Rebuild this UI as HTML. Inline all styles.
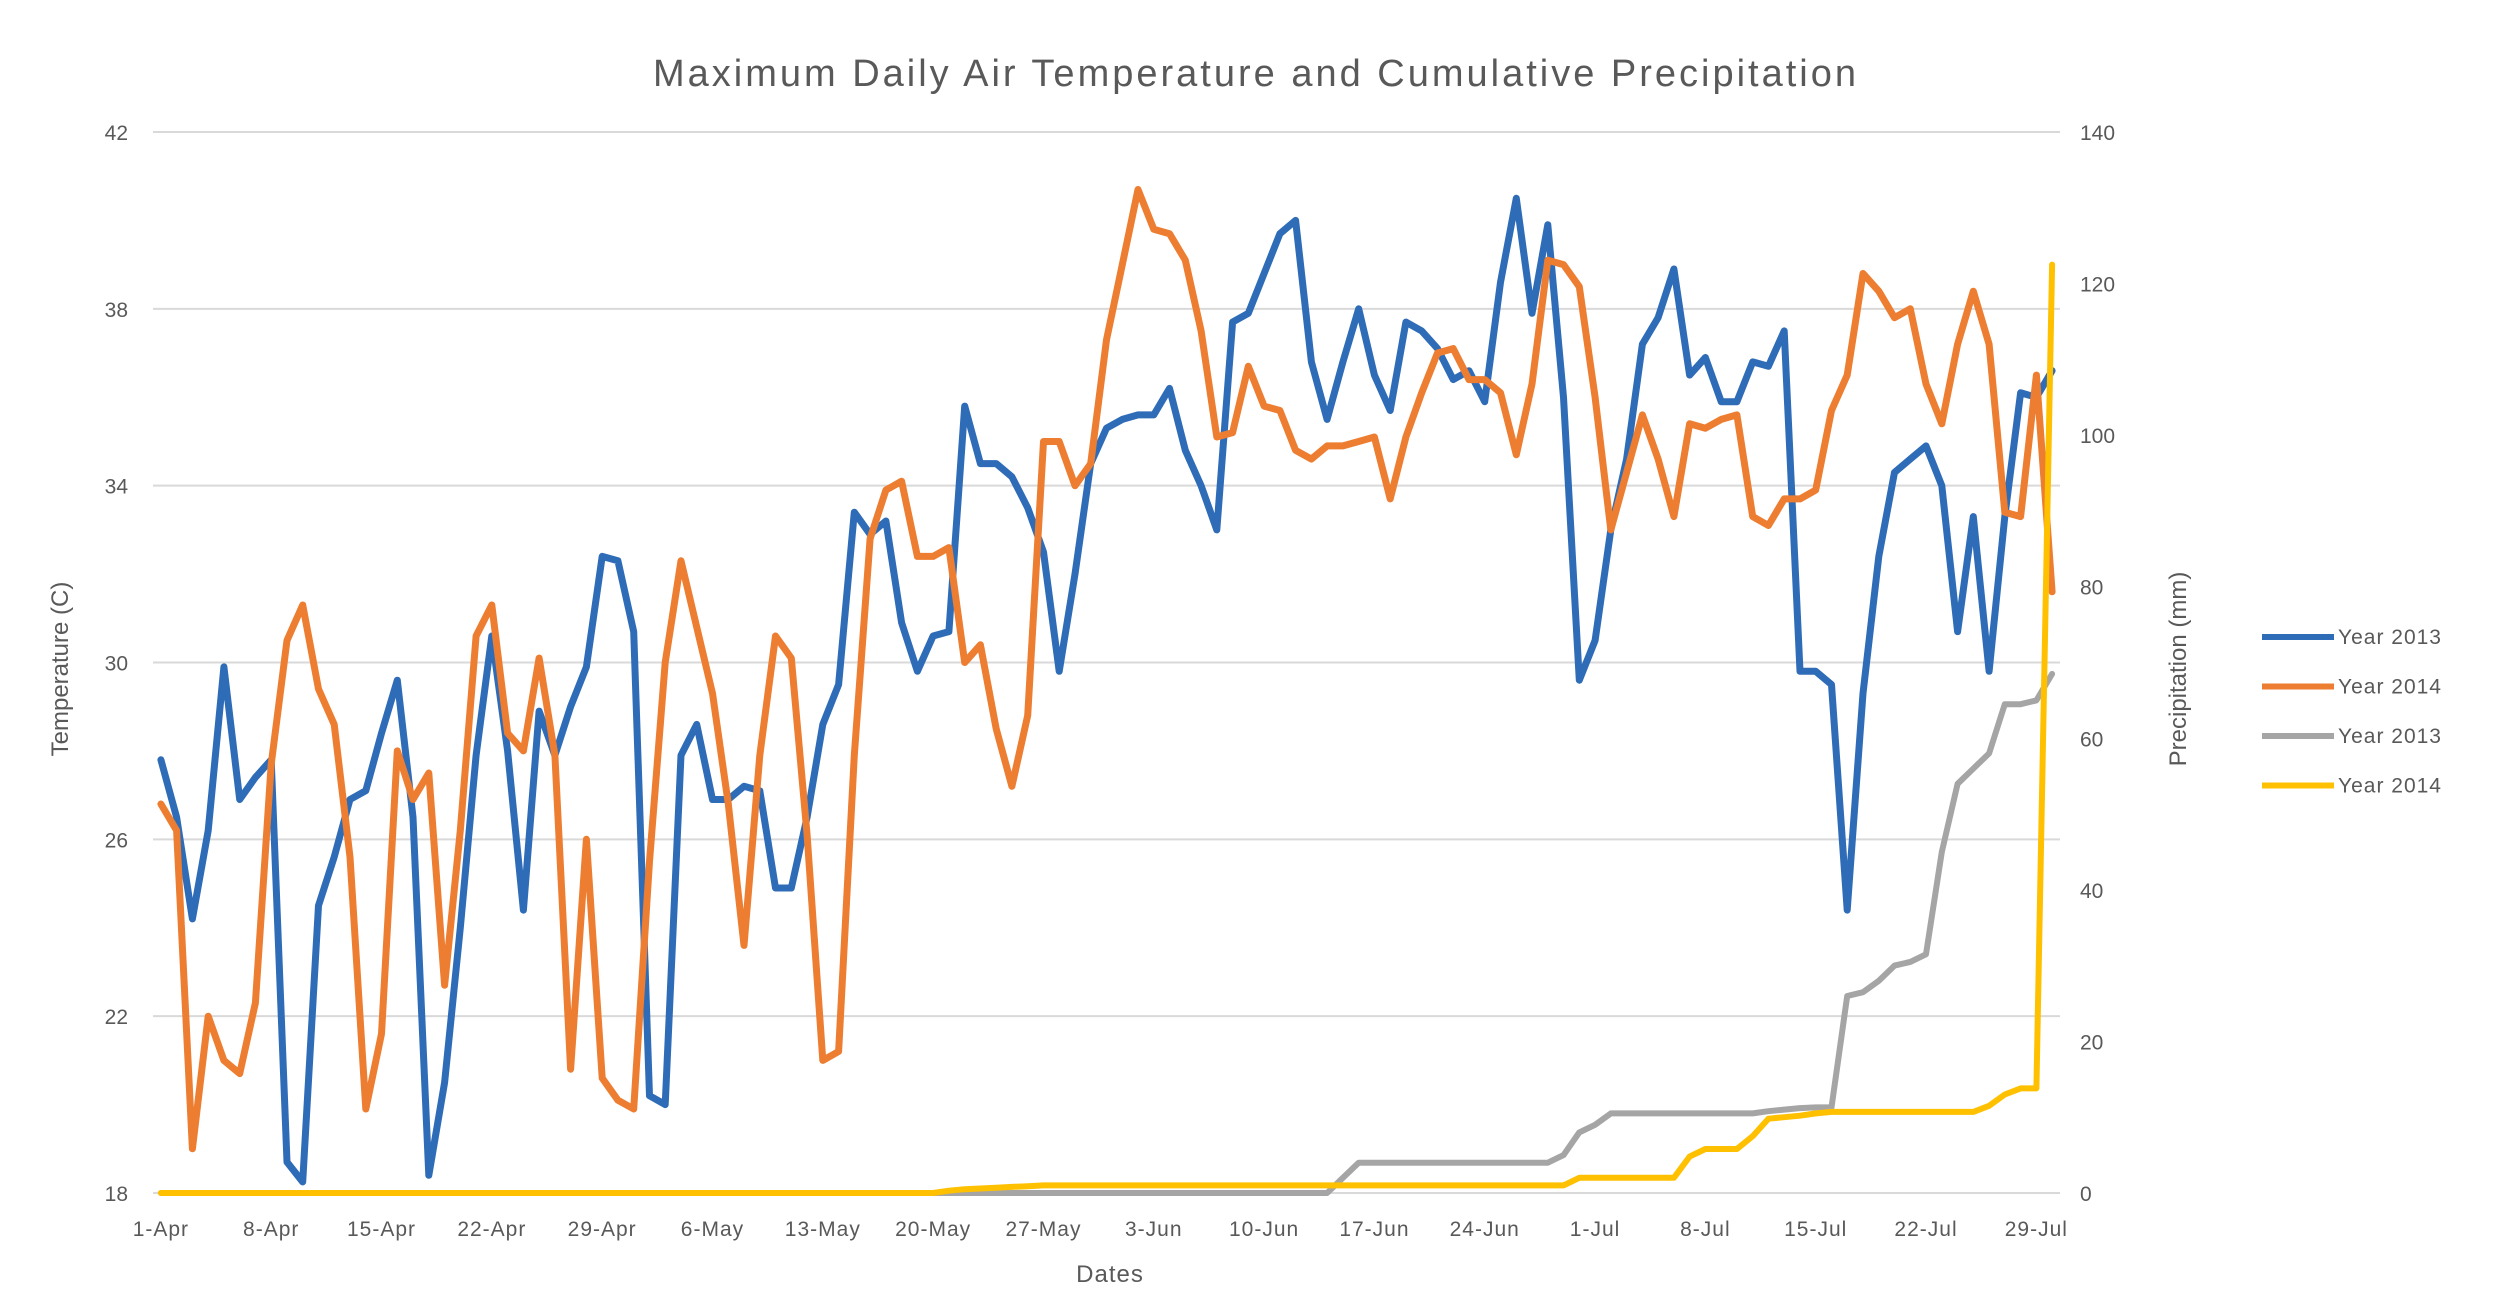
<!DOCTYPE html>
<html><head><meta charset="utf-8"><style>
html,body{margin:0;padding:0;background:#fff;}
svg{display:block;font-family:"Liberation Sans",sans-serif;}
</style></head><body>
<svg id="chart" width="2509" height="1315" viewBox="0 0 2509 1315" xmlns="http://www.w3.org/2000/svg">
<rect width="2509" height="1315" fill="#ffffff"/>
<text x="1256" y="86" text-anchor="middle" font-size="38" letter-spacing="3" fill="#595959">Maximum Daily Air Temperature and Cumulative Precipitation</text>
<g id="grid"></g>
<g id="ylab"></g>
<g id="y2lab"></g>
<g id="xlab"></g>
<g id="series"></g>
<text x="1110" y="1282" text-anchor="middle" font-size="24" letter-spacing="1" fill="#595959">Dates</text>
<text transform="translate(68,669) rotate(-90)" text-anchor="middle" font-size="24" fill="#595959">Temperature (C)</text>
<text transform="translate(2186,669) rotate(-90)" text-anchor="middle" font-size="24" fill="#595959">Precipitation (mm)</text>
<g id="legend"></g>
</svg>
<script>
const dateLabels=["1-Apr","8-Apr","15-Apr","22-Apr","29-Apr","6-May","13-May","20-May","27-May","3-Jun","10-Jun","17-Jun","24-Jun","1-Jul","8-Jul","15-Jul","22-Jul","29-Jul"];
const tempTicks=[18,22,26,30,34,38,42];
const precipTicks=[0,20,40,60,80,100,120,140];
const temp2013=[27.8,26.5,24.2,26.2,29.9,26.9,27.4,27.8,18.7,18.25,24.5,25.6,26.9,27.1,28.4,29.6,26.5,18.4,20.5,24.0,27.9,30.6,28.0,24.4,28.9,27.9,29.0,29.9,32.4,32.3,30.7,
20.2,20.0,27.9,28.6,26.9,26.9,27.2,27.1,24.9,24.9,26.5,28.6,29.5,33.4,32.9,33.2,30.9,29.8,30.6,30.7,35.8,34.5,34.5,34.2,33.5,32.5,29.8,32.0,34.5,35.3,
35.5,35.6,35.6,36.2,34.8,34.0,33.0,37.7,37.9,38.8,39.7,40.0,
36.8,35.5,36.8,38.0,36.5,35.7,37.7,37.5,37.1,36.4,36.6,35.9,38.6,40.5,37.9,39.9,36.0,
29.6,30.5,33.0,34.6,37.2,37.8,38.9,36.5,36.9,35.9,35.9,36.8,36.7,37.5,29.8,29.8,29.5,24.4,29.3,32.4,34.3,34.6,34.9,34.0,30.7,33.3,29.8,33.3,36.1,36.0,36.6];
const temp2014=[26.8,26.2,19.0,22.0,21.0,20.7,22.3,27.7,30.5,31.3,29.4,28.6,25.6,19.9,21.6,28.0,26.9,27.5,22.7,26.2,30.6,31.3,28.4,28.0,30.1,27.9,20.8,26.0,20.6,20.1,19.9,
25.5,30.0,32.3,30.8,29.3,26.8,23.6,27.9,30.6,30.1,26.1,21.0,21.2,27.9,32.8,33.9,34.1,32.4,32.4,32.6,30.0,30.4,28.5,27.2,28.8,35.0,35.0,34.0,34.5,
37.3,39.0,40.7,39.8,39.7,39.1,37.5,35.1,35.2,36.7,35.8,35.7,34.8,34.6,34.9,34.9,35.0,35.1,33.7,35.1,36.1,37.0,37.1,36.4,36.4,36.1,34.7,36.3,39.1,39.0,38.5,36.0,33.0,
34.3,35.6,34.6,33.3,35.4,35.3,35.5,35.6,33.3,33.1,33.7,33.7,33.9,35.7,36.5,38.8,38.4,37.8,38.0,36.3,35.4,37.2,38.4,37.2,33.4,33.3,36.5,31.6];
const precip2013=[0,0,0,0,0,0,0,0,0,0,0,0,0,0,0,0,0,0,0,0,0,0,0,0,0,0,0,0,0,0,0,0,0,0,0,0,0,0,0,0,
0,0,0,0,0,0,0,0,0,0,0,0,0,0,0,0,0,0,0,0,0,0,0,0,0,0,0,0,0,0,0,0,0,0,0,
2,4,4,4,4,4,4,4,4,4,4,4,4,4,5,8,9,10.5,10.5,10.5,10.5,10.5,10.5,10.5,10.5,10.5,10.5,
10.8,11,11.2,11.3,11.3,26,26.5,28,30,30.5,31.5,45,54,56,58,64.5,64.5,65,68.5];
const precip2014=[0,0,0,0,0,0,0,0,0,0,0,0,0,0,0,0,0,0,0,0,0,0,0,0,0,0,0,0,0,0,0,0,0,0,0,0,0,0,0,0,0,0,0,0,0,0,0,0,0,0,
0.3,0.5,0.6,0.7,0.8,0.9,
1,1,1,1,1,1,1,1,1,1,1,1,1,1,1,1,1,1,1,1,1,1,1,1,1,1,1,1,1,1,1,1,1,1,
2,2,2,2,2,2,2,4.8,5.8,5.8,5.8,7.5,9.8,10,10.2,10.5,
10.7,10.7,10.7,10.7,10.7,10.7,10.7,10.7,10.7,10.7,11.5,13,13.8,13.8,122.5];
const seriesNames=["Year  2013","Year 2014","Year  2013","Year 2014"];

const NS="http://www.w3.org/2000/svg";
const L=153,R=2060,T=132,B=1193,N=temp2013.length;
const step=(R-L)/N;
function xs(i){return L+step*(i+0.5);}
function yT(v){return B-(v-18)*(B-T)/24;}
function yP(v){return B-v*(B-T)/140;}
function mk(tag,attrs,parent){const e=document.createElementNS(NS,tag);for(const k in attrs)e.setAttribute(k,attrs[k]);parent.appendChild(e);return e;}

const grid=document.getElementById('grid');
const ylab=document.getElementById('ylab');
tempTicks.forEach(t=>{
  const ln=mk('line',{x1:L,x2:R,y1:yT(t),y2:yT(t),stroke:'#d9d9d9','stroke-width':2},grid);
  
  
  const tx=mk('text',{x:128,y:yT(t)+8,'text-anchor':'end','font-size':21,fill:'#595959'},ylab);
  tx.textContent=t;
  
  
});
const y2lab=document.getElementById('y2lab');
precipTicks.forEach(p=>{
  const tx=mk('text',{x:2080,y:yP(p)+8,'text-anchor':'start','font-size':21,fill:'#595959'},y2lab);
  tx.textContent=p;
  
  
});
const xlab=document.getElementById('xlab');
dateLabels.forEach((d,k)=>{
  const tx=mk('text',{x:xs(k*7),y:1236,'text-anchor':'middle','font-size':21,'letter-spacing':1,fill:'#595959'},xlab);
  tx.textContent=d;
  
  
});

const ser=document.getElementById('series');
const defs=[[temp2013,yT,'#2f6cb7','line-temp-2013'],[temp2014,yT,'#ed7d31','line-temp-2014'],[precip2013,yP,'#a5a5a5','line-precip-2013'],[precip2014,yP,'#ffc000','line-precip-2014']];
defs.forEach(([arr,fy,col,name])=>{
  const pts=arr.map((v,i)=>xs(i).toFixed(1)+','+fy(v).toFixed(1)).join(' ');
  const pl=mk('polyline',{points:pts,fill:'none',stroke:col,'stroke-width':name.indexOf('temp')>=0?7:6,'stroke-linejoin':'round','stroke-linecap':'round'},ser);
  
  
});

const leg=document.getElementById('legend');
const legCols=['#2f6cb7','#ed7d31','#a5a5a5','#ffc000'];
seriesNames.forEach((n,k)=>{
  const y=637+k*49.5;
  const ln=mk('line',{x1:2262,x2:2334,y1:y,y2:y,stroke:legCols[k],'stroke-width':6},leg);
  
  
  const tx=mk('text',{x:2338,y:y+7,'font-size':21,'letter-spacing':1,fill:'#595959','xml:space':'preserve'},leg);
  tx.textContent=n;
  
  
});
</script>
</body></html>
